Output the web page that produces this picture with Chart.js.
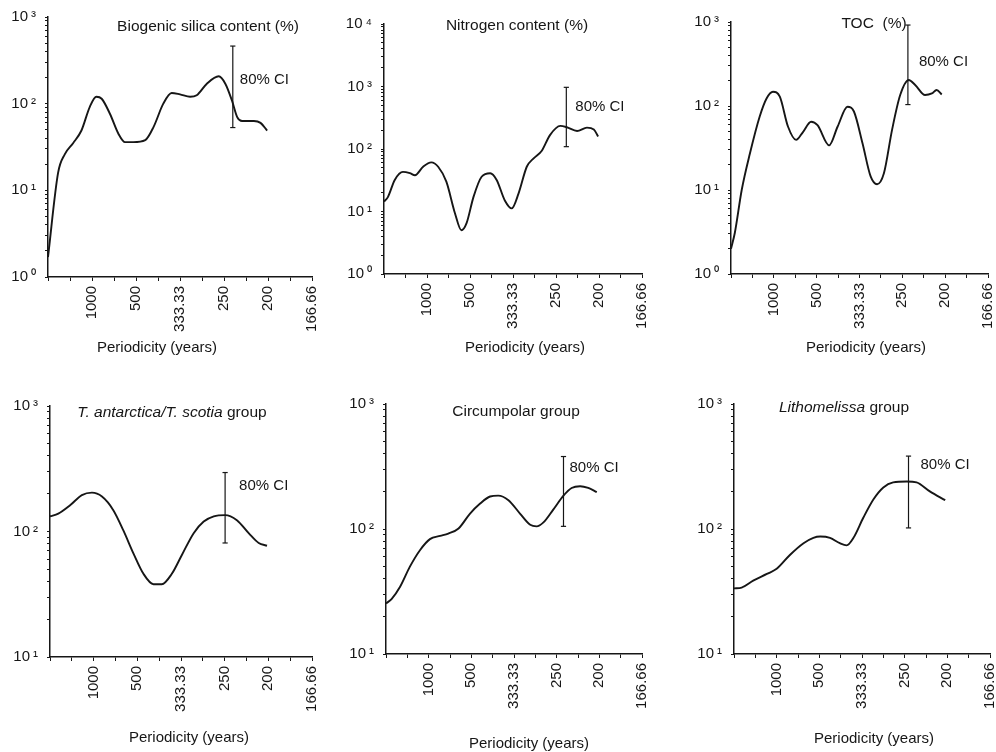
<!DOCTYPE html>
<html><head><meta charset="utf-8">
<script src="https://cdn.jsdelivr.net/npm/chart.js@4.4.1/dist/chart.umd.min.js"></script>
<style>
html,body{margin:0;padding:0;background:#fff;width:996px;height:752px;overflow:hidden;position:relative}
canvas{position:absolute}
</style></head><body>
<script>
// x values are frequencies in cycles per 1000 years; tick labels give the periodicity
const periodTickFreqs = [1, 2, 3, 4, 5, 6];
const periodLabels = ['1000', '500', '333.33', '250', '200', '166.66'];

const freqSilica = [0, 0.23, 0.38, 0.57, 0.76, 0.95, 1.10, 1.22, 1.41, 1.60, 1.75, 1.94, 2.21, 2.40, 2.62, 2.81, 3.00, 3.23, 3.38, 3.61, 3.88, 4.03, 4.18, 4.30, 4.41, 4.68, 4.83, 4.98];
const valSilica  = [1.7, 16, 26, 35, 49, 92, 120, 114, 76, 45, 36, 36, 38, 54, 100, 133, 128, 120, 125, 170, 207, 170, 109, 70, 63, 63, 60, 49];
const ciSilica = [4.2, 53, 462];

const freqNitrogen = [0, 0.09, 0.25, 0.44, 0.60, 0.72, 0.91, 1.10, 1.26, 1.45, 1.65, 1.80, 1.92, 2.08, 2.27, 2.47, 2.62, 2.81, 2.97, 3.13, 3.32, 3.48, 3.67, 3.86, 4.10, 4.25, 4.49, 4.72, 4.88, 4.98];
const valNitrogen  = [14.4, 17, 32, 43, 41, 38, 52, 61, 52, 30, 9.4, 5, 6.5, 17, 36, 41, 32, 15, 11.2, 19.5, 52, 71, 94, 167, 234, 223, 194, 220, 206, 158];
const ciNitrogen = [4.24, 109, 970];

const freqTOC = [0, 0.09, 0.25, 0.44, 0.67, 0.83, 0.98, 1.14, 1.33, 1.52, 1.68, 1.87, 2.02, 2.29, 2.49, 2.72, 2.87, 3.07, 3.26, 3.41, 3.57, 3.76, 3.95, 4.15, 4.30, 4.53, 4.69, 4.80, 4.92];
const valTOC  = [2.0, 3.1, 10, 27, 75, 123, 148, 129, 57, 39.5, 49, 65, 59, 34, 57, 98, 86, 36, 14.5, 11.7, 15.8, 52, 135, 204, 178, 135, 141, 155, 137];
const ciTOC = [4.13, 104, 920];

const freqAntarctica = [0, 0.19, 0.46, 0.73, 0.96, 1.19, 1.45, 1.68, 1.91, 2.14, 2.37, 2.56, 2.79, 3.02, 3.29, 3.52, 3.75, 4.01, 4.28, 4.55, 4.78, 4.97];
const valAntarctica  = [132, 139, 162, 195, 204, 190, 148, 102, 67, 46, 38, 38, 46, 65, 97, 120, 132, 135, 123, 97, 81, 77];
const ciAntarctica = [4.01, 81, 295];

const freqCircumpolar = [0, 0.13, 0.33, 0.56, 0.80, 1.03, 1.27, 1.46, 1.70, 1.97, 2.20, 2.44, 2.63, 2.87, 3.14, 3.38, 3.53, 3.69, 3.92, 4.16, 4.35, 4.55, 4.74, 4.94];
const valCircumpolar  = [25.4, 27.5, 34.5, 50, 68, 83, 88, 92, 101, 133, 159, 182, 185, 170, 133, 108, 105, 113, 143, 185, 213, 220, 213, 197];
const ciCircumpolar = [4.16, 105, 380];

const freqLithomelissa = [0, 0.18, 0.45, 0.77, 1.0, 1.31, 1.63, 1.86, 2.02, 2.25, 2.48, 2.64, 2.80, 3.03, 3.27, 3.50, 3.73, 4.05, 4.28, 4.59, 4.95];
const valLithomelissa  = [33.5, 34, 38.6, 43.7, 48, 62, 77, 85, 87, 85, 77, 74, 85, 123, 173, 215, 236, 240, 236, 200, 170];
const ciLithomelissa = [4.09, 102, 383];

const xAxisTitle = 'Periodicity (years)';
const ciText = '80% CI';

// layout (page pixels)
const FONT = '"Liberation Sans", Arial, Helvetica, sans-serif';
const INK = '#161616';
const panels = [
  {title: [{t: 'Biogenic silica content (%)'}], f: freqSilica, v: valSilica, ci: ciSilica, ymin: 1, ymax: 1000,
   area: {l: 48, r: 312, t: 17, b: 277}, titleC: [208, 27], axisTitleC: [157, 348], ciDX: 7, ciY: 80},
  {title: [{t: 'Nitrogen content (%)'}], f: freqNitrogen, v: valNitrogen, ci: ciNitrogen, ymin: 1, ymax: 10000,
   area: {l: 384, r: 642, t: 24, b: 274}, titleC: [517, 26], axisTitleC: [525, 348], ciDX: 9, ciY: 107},
  {title: [{t: 'TOC  (%)'}], f: freqTOC, v: valTOC, ci: ciTOC, ymin: 1, ymax: 1000,
   area: {l: 731, r: 988, t: 22, b: 274}, titleC: [874, 24], axisTitleC: [866, 348], ciDX: 11, ciY: 62},
  {title: [{t: 'T. antarctica/T. scotia', i: true}, {t: ' group'}], f: freqAntarctica, v: valAntarctica, ci: ciAntarctica, ymin: 10, ymax: 1000,
   area: {l: 50, r: 312, t: 406, b: 657}, titleC: [172, 413], axisTitleC: [189, 738], ciDX: 14, ciY: 486},
  {title: [{t: 'Circumpolar group'}], f: freqCircumpolar, v: valCircumpolar, ci: ciCircumpolar, ymin: 10, ymax: 1000,
   area: {l: 386, r: 642, t: 404, b: 654}, titleC: [516, 412], axisTitleC: [529, 744], ciDX: 6, ciY: 468},
  {title: [{t: 'Lithomelissa', i: true}, {t: ' group'}], f: freqLithomelissa, v: valLithomelissa, ci: ciLithomelissa, ymin: 10, ymax: 1000,
   area: {l: 734, r: 990, t: 404, b: 654}, titleC: [844, 408], axisTitleC: [874, 739], ciDX: 12, ciY: 465}
];

const SUP = {'0': '\u2070', '1': '\u00B9', '2': '\u00B2', '3': '\u00B3', '4': '\u2074'};
const YW = 48, PT = 22, PR = 28;

function logTicks(min, max) {
  const out = [];
  for (let d = Math.round(Math.log10(min)); d < Math.round(Math.log10(max)); d++) {
    for (let m = 1; m <= 9; m++) out.push(m * Math.pow(10, d));
  }
  out.push(max);
  return out;
}
function xTicks() {
  const out = [];
  for (let k = 0; k <= 12; k++) out.push(k / 2);
  return out;
}

panels.forEach((p, idx) => {
  const cl = p.area.l - YW, ct = p.area.t - PT;
  const XH = p.axisTitleC[1] + 12 - p.area.b;
  const cw = (p.area.r - p.area.l) + YW + PR;
  const ch = (p.area.b - p.area.t) + PT + XH;
  const cv = document.createElement('canvas');
  cv.width = cw; cv.height = ch;
  cv.style.left = cl + 'px'; cv.style.top = ct + 'px';
  cv.style.width = cw + 'px'; cv.style.height = ch + 'px';
  document.body.appendChild(cv);

  const textPlugin = {
    id: 'panelText' + idx,
    afterDraw(chart) {
      const ctx = chart.ctx;
      ctx.save();
      ctx.fillStyle = INK;
      ctx.textBaseline = 'middle';
      // panel title (mixed italic)
      const runs = p.title.map(r => ({t: r.t, font: (r.i ? 'italic ' : '') + '15.5px ' + FONT}));
      let w = 0;
      runs.forEach(r => { ctx.font = r.font; r.w = ctx.measureText(r.t).width; w += r.w; });
      let x = p.titleC[0] - cl - w / 2;
      runs.forEach(r => { ctx.font = r.font; ctx.textAlign = 'left'; ctx.fillText(r.t, x, p.titleC[1] - ct); x += r.w; });
      // CI label
      const xs = chart.scales.x;
      ctx.font = '15px ' + FONT;
      ctx.textAlign = 'left';
      ctx.fillText(ciText, xs.getPixelForValue(p.ci[0]) + p.ciDX, p.ciY - ct);
      // axis title
      ctx.textAlign = 'center';
      ctx.fillText(xAxisTitle, p.axisTitleC[0] - cl, p.axisTitleC[1] - ct);
      ctx.restore();
    }
  };

  new Chart(cv, {
    type: 'line',
    data: {
      datasets: [
        {
          data: p.f.map((f, i) => ({x: f, y: p.v[i]})),
          borderColor: INK, borderWidth: 1.9, pointRadius: 0, fill: false,
          tension: 0.4, cubicInterpolationMode: 'monotone'
        },
        {
          data: [{x: p.ci[0], y: p.ci[1]}, {x: p.ci[0], y: p.ci[2]}],
          borderColor: INK, borderWidth: 1.2, tension: 0,
          pointStyle: 'line', pointRadius: 2.6, pointBorderWidth: 1.2,
          pointBorderColor: INK, pointBackgroundColor: INK
        }
      ]
    },
    options: {
      responsive: false, animation: false, devicePixelRatio: 1, events: [],
      layout: {padding: {left: 0, top: PT, right: PR, bottom: 0}},
      plugins: {legend: {display: false}, tooltip: {enabled: false}, title: {display: false}},
      scales: {
        x: {
          type: 'linear', min: 0, max: 6,
          afterBuildTicks: s => { s.ticks = xTicks().map(v => ({value: v})); },
          afterFit: s => { s.height = XH; },
          grid: {drawOnChartArea: false, drawTicks: true, tickLength: 4, color: INK, tickWidth: 1},
          border: {display: true, color: INK, width: 1.5},
          ticks: {
            autoSkip: false, minRotation: 90, maxRotation: 90, padding: 5, color: INK,
            font: {family: FONT, size: 15},
            callback: v => { const k = periodTickFreqs.indexOf(v); return k >= 0 ? periodLabels[k] : ''; }
          }
        },
        y: {
          type: 'logarithmic', min: p.ymin, max: p.ymax,
          afterBuildTicks: s => { s.ticks = logTicks(p.ymin, p.ymax).map(v => ({value: v})); },
          afterFit: s => { s.width = YW; },
          grid: {drawOnChartArea: false, drawTicks: true, tickLength: 3, color: INK, tickWidth: 1},
          border: {display: true, color: INK, width: 1.5},
          ticks: {
            autoSkip: false, padding: 9, color: INK,
            font: {family: FONT, size: 15},
            callback: v => {
              const e = Math.log10(v);
              if (Math.abs(e - Math.round(e)) < 1e-9) return '10\u2009' + SUP[String(Math.round(e))];
              return '';
            }
          }
        }
      }
    },
    plugins: [textPlugin]
  });
});
</script>
</body></html>
